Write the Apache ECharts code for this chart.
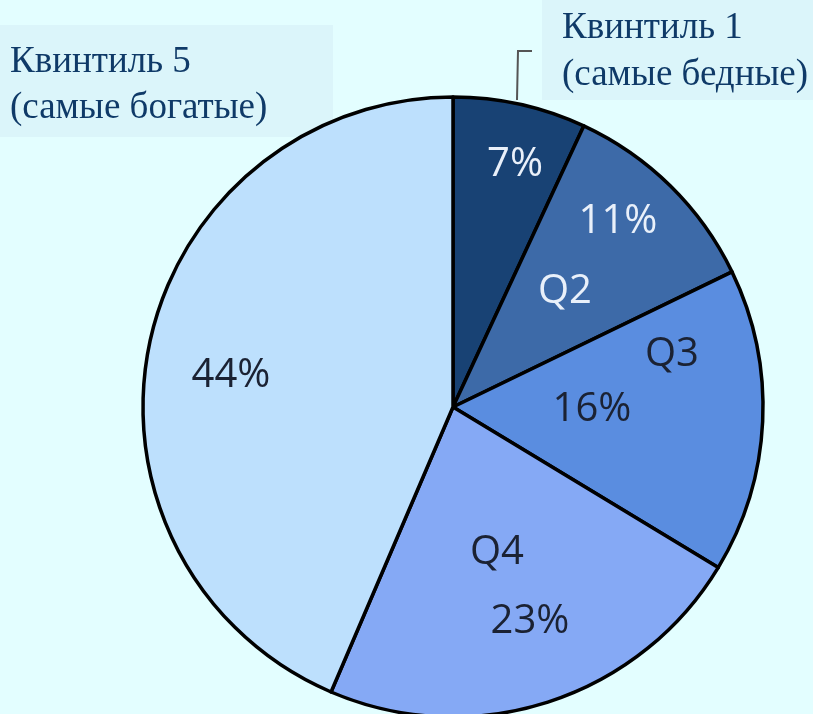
<!DOCTYPE html>
<html>
<head>
<meta charset="utf-8">
<script src="https://cdn.jsdelivr.net/npm/echarts@6/dist/echarts.min.js"></script>
<style>
    html, body {margin: 0; padding: 0; background: #e3feff;}
    #main {width: 813px; height: 714px;}
</style>
</head>
<body>
<div id="main"></div>
<script>
// доли квинтилей, по часовой стрелке от верха
var quintNames = ["Q1", "Q2", "Q3", "Q4", "Q5"];
var quintValues = [7, 11, 16, 23, 44];
var quintColors = ["#184274", "#3d6aa8", "#5a8de0", "#85a9f5", "#bde0fd"];
var pctLabels = ["7%", "11%", "16%", "23%", "44%"];
var qLabels = ["", "Q2", "Q3", "Q4", ""];

var serif = "'Liberation Serif', 'DejaVu Serif', serif";
var sans = "'Open Sans', 'Noto Sans', sans-serif";

var chart = echarts.init(document.getElementById("main"));

var pieData = [];
quintNames.forEach(function (name, i) {
    pieData.push({name: name, value: quintValues[i], itemStyle: {color: quintColors[i]}});
});

// подписи внутри секторов
var lightText = "#e9f0fa";
var darkText = "#1b2233";
var labelSpots = [
    {text: pctLabels[0], x: 515, y: 165, color: lightText},
    {text: pctLabels[1], x: 618, y: 222, color: lightText},
    {text: qLabels[1], x: 565, y: 292, color: lightText},
    {text: qLabels[2], x: 672, y: 355, color: darkText},
    {text: pctLabels[2], x: 592, y: 410, color: darkText},
    {text: qLabels[3], x: 497, y: 553, color: darkText},
    {text: pctLabels[3], x: 530, y: 622, color: darkText},
    {text: pctLabels[4], x: 231, y: 376, color: darkText}
];

var graphics = [
    {type: "rect", z: -10, shape: {x: 0, y: 25, width: 333, height: 112}, style: {fill: "#dbf5fa"}},
    {type: "rect", z: -10, shape: {x: 542, y: 0, width: 271, height: 100}, style: {fill: "#dbf5fa"}},
    {type: "text", z: 10, left: 10, top: 39, style: {
        text: "Квинтиль 5\n(самые богатые)", font: "37px " + serif, fill: "#0f3a68", lineHeight: 46
    }},
    {type: "text", z: 10, left: 562, top: 5, style: {
        text: "Квинтиль 1\n(самые бедные)", font: "37px " + serif, fill: "#0f3a68", lineHeight: 47
    }},
    {type: "polyline", z: 10, shape: {points: [[517, 100], [518, 51], [532, 51]]},
        style: {stroke: "#555", lineWidth: 2, fill: null}}
];
labelSpots.forEach(function (s) {
    graphics.push({type: "text", z: 10, x: s.x, y: s.y, style: {
        text: s.text, font: "40px " + sans, fill: s.color, align: "center", verticalAlign: "middle"
    }});
});

var option = {
    backgroundColor: "#e3feff",
    animation: false,
    graphic: graphics,
    series: [
        {
            type: "pie",
            center: [453, 407],
            radius: 310,
            startAngle: 90,
            clockwise: true,
            label: {show: false},
            labelLine: {show: false},
            itemStyle: {borderColor: "#000", borderWidth: 3.5},
            emphasis: {disabled: true},
            data: pieData
        }
    ]
};
chart.setOption(option);
</script>
</body>
</html>
